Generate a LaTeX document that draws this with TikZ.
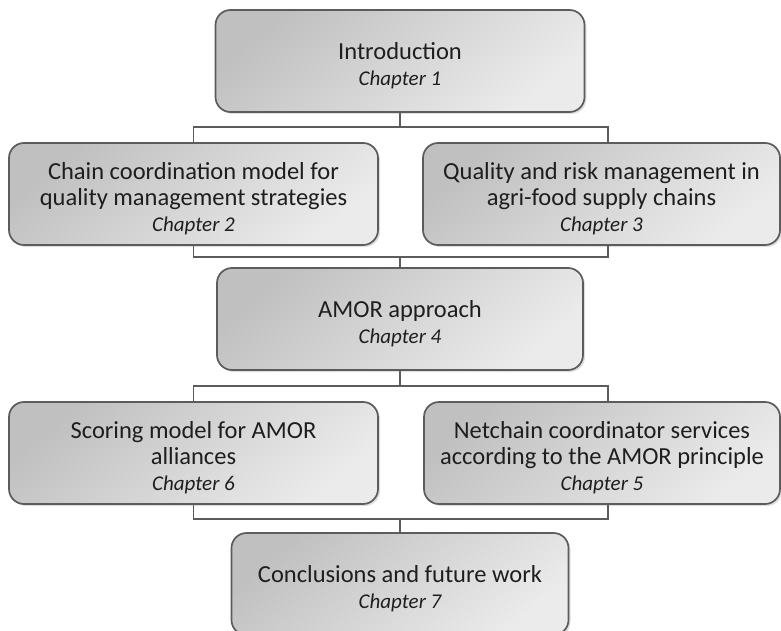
\documentclass[tikz,border=0pt]{standalone}
\usepackage{fontspec}
\setmainfont{Carlito}
\usetikzlibrary{shadows}
\definecolor{edgegray}{HTML}{5C5C5C}
\definecolor{textgray}{HTML}{1E1E1E}
\definecolor{shadedark}{HTML}{C0C0C0}
\definecolor{shadelight}{HTML}{EBEBEB}
\newcommand\chapline[1]{{\fontsize{21}{26}\selectfont\itshape Chapter #1}}
% taller first line lowers the text block a little inside its box
\newcommand\firstline{\rule{0pt}{27pt}}
\tikzset{
  chapbox/.style={draw=edgegray, line width=1.7pt, rounded corners=15pt,
    top color=shadedark, bottom color=shadelight, shading angle=40,
    drop shadow={opacity=0.25, shadow xshift=2pt, shadow yshift=-2pt},
    minimum height=102pt, inner sep=0pt, align=center, text=textgray,
    font=\fontsize{24.5}{26}\selectfont},
  link/.style={draw=edgegray, line width=1.7pt}
}
\begin{document}
\begin{tikzpicture}[x=1pt,y=-1pt]
\useasboundingbox (0,0) rectangle (781,631);

% chapter boxes
\node[chapbox, minimum width=369pt] (intro) at (400,61) {\firstline Introduction\\\chapline{1}};
\node[chapbox, minimum width=369pt] (ch2) at (193.5,194) {\firstline Chain coordination model for\\quality management strategies\\\chapline{2}};
\node[chapbox, minimum width=357pt] (ch3) at (601.5,194) {\firstline Quality and risk management in\\agri-food supply chains\\\chapline{3}};
\node[chapbox, minimum width=366pt] (amor) at (400,319) {\firstline AMOR approach\\\chapline{4}};
\node[chapbox, minimum width=369pt] (ch6) at (193.5,453) {\firstline Scoring model for AMOR\\alliances\\\chapline{6}};
\node[chapbox, minimum width=356pt] (ch5) at (602,453) {\firstline Netchain coordinator services\\according to the AMOR principle\\\chapline{5}};
\node[chapbox, minimum width=337pt] (ch7) at (400,584) {\firstline Conclusions and future work\\\chapline{7}};

% junction points of the connector bars
\coordinate (j1) at (400,127);
\coordinate (j2) at (400,257);
\coordinate (j3) at (400,386);
\coordinate (j4) at (400,519);

% connectors
\draw[link] (intro.south) -- (j1);
\draw[link] (ch2.north) |- (j1) -| ([xshift=6.5pt]ch3.north);
\draw[link] (ch2.south) |- (j2) -| ([xshift=6.5pt]ch3.south);
\draw[link] (j2) -- (amor.north);
\draw[link] (amor.south) -- (j3);
\draw[link] (ch6.north) |- (j3) -| ([xshift=6pt]ch5.north);
\draw[link] (ch6.south) |- (j4) -| ([xshift=6pt]ch5.south);
\draw[link] (j4) -- (ch7.north);
\end{tikzpicture}
\end{document}
